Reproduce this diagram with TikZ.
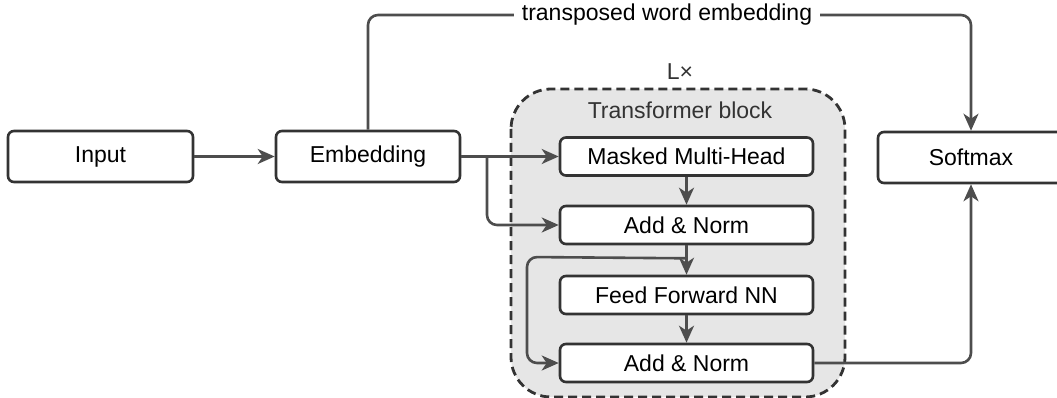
\documentclass[tikz,border=0pt]{standalone}
\usepackage{fontspec}
\setmainfont{Liberation Sans}
\usetikzlibrary{arrows.meta}
\definecolor{edgec}{HTML}{4D4D4D}
\definecolor{bordc}{HTML}{333333}
\definecolor{blockfill}{HTML}{E6E6E6}
\begin{document}
\begin{tikzpicture}[x=1pt,y=-1pt,
  txt/.style={font=\fontsize{23}{27}\selectfont},
  box/.style={txt, draw=bordc, line width=2.6pt, rounded corners=6pt, fill=white, inner sep=0pt},
  bigbox/.style={box, minimum height=51pt},
  inbox/.style={box, minimum width=253pt, minimum height=38pt},
  conn/.style={draw=edgec, line width=2.6pt, rounded corners=10pt,
    -{Stealth[length=17pt,width=15pt,inset=5pt]}},
  block/.style={draw=bordc, line width=2.8pt, dash pattern=on 9pt off 5pt, fill=blockfill, rounded corners=40pt}
]
\useasboundingbox (0,0) rectangle (1057,398);
% transformer block
\draw[block] (511,89) rectangle (845,397);
\node[txt, text=bordc] (lx) at (680,72) {L×};
\node[txt, text=bordc] (tb) at (680,110) {Transformer block};
% boxes
\node[bigbox, minimum width=185pt] (inp) at (100.5,156.5) {Input};
\node[bigbox, minimum width=184pt] (emb) at (368,156.5) {Embedding};
\node[bigbox, minimum width=186pt] (smx) at (971,157.5) {Softmax};
\node[inbox] (mmh) at (686.5,156.5) {Masked Multi-Head};
\node[inbox] (an1) at (686.5,225) {Add \& Norm};
\node[inbox] (ffn) at (686.5,295) {Feed Forward NN};
\node[inbox] (an2) at (686.5,363) {Add \& Norm};
% connectors
\draw[conn] (inp.east) -- (emb.west);
\draw[conn] (emb.east) -- (mmh.west);
\coordinate (br) at (487,156.5);
\draw[conn] (br) |- (an1.west);
\draw[conn] (mmh.south) -- (an1.north);
\draw[conn] (an1.south) -- (ffn.north);
\draw[conn] (ffn.south) -- (an2.north);
\coordinate (lp) at ([yshift=-13pt]an1.south);
\coordinate (lpl) at (527,257);
\draw[conn] (lp) -- (lpl) |- (an2.west);
\draw[conn] (an2.east) -| (smx.south);
\coordinate (tp) at (667,15);
\draw[conn] (emb.north) |- (tp) -| (smx.north);
\node[txt, fill=white, inner xsep=8pt, inner ysep=2pt] (twe) at (tp) {transposed word embedding};
\end{tikzpicture}
\end{document}
